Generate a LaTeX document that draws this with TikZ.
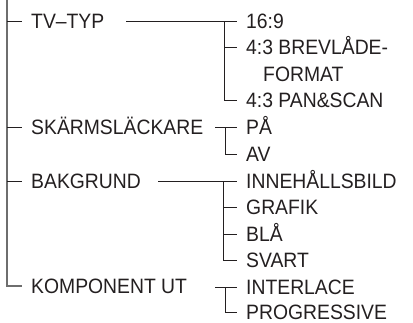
\documentclass[tikz,border=0pt]{standalone}
\usepackage{fontspec}
\setmainfont[FakeStretch=0.93]{Liberation Sans}
\definecolor{ink}{HTML}{231F20}
\definecolor{trunkgray}{HTML}{6E6E6E}
\begin{document}
\begin{tikzpicture}[x=1pt,y=-1pt,
  lbl/.style={anchor=west, inner xsep=9.5pt, inner ysep=0pt, text height=14.8pt, text depth=0pt,
              font=\fontsize{20.8}{21}\selectfont, text=ink},
  trunk/.style={draw=trunkgray, line width=1.6pt},
  branch/.style={draw=ink, line width=0.9pt}]
\useasboundingbox (0,0) rectangle (413,322);
% main labels
\node[lbl] (tv)    at (21.5,21)    {TV–TYP};
\node[lbl] (skarm) at (21.5,127.5) {SKÄRMSLÄCKARE};
\node[lbl] (bak)   at (21.5,181)   {BAKGRUND};
\node[lbl] (komp)  at (21.5,286)   {KOMPONENT UT};
% sub labels
\node[lbl] (s169)  at (236.5,21)    {16:9};
\node[lbl] (brev)  at (236.5,47.5)  {4:3 BREVLÅDE-};
\node[lbl] (fmt)   at (253.5,74)    {FORMAT};
\node[lbl] (pan)   at (236.5,100.5) {4:3 PAN\&SCAN};
\node[lbl] (pa)    at (236.5,127.5) {PÅ};
\node[lbl] (av)    at (236.5,154.5) {AV};
\node[lbl] (inne)  at (236.5,181)   {INNEHÅLLSBILD};
\node[lbl] (graf)  at (236.5,207.5) {GRAFIK};
\node[lbl] (bla)   at (236.5,234)   {BLÅ};
\node[lbl] (svart) at (236.5,260.5) {SVART};
\node[lbl] (inter) at (236.5,287)   {INTERLACE};
\node[lbl] (prog)  at (236.5,312)   {PROGRESSIVE};
% coordinates
\coordinate (top) at (7,0);
\coordinate (tvs) at (126,21);
\coordinate (tvj) at (224,21);
\coordinate (sks) at (215,127.5);
\coordinate (skj) at (225,127.5);
\coordinate (bks) at (158,181);
\coordinate (bkj) at (223.5,181);
\coordinate (kps) at (215,287);
\coordinate (kpj) at (225,287);
% trunk
\draw[trunk] (top) |- (komp.west);
\draw[branch] (top |- tv.west) -- (tv.west);
\draw[branch] (top |- skarm.west) -- (skarm.west);
\draw[branch] (top |- bak.west) -- (bak.west);
% TV-TYP
\draw[branch] (tvs) -- (s169.west);
\draw[branch] (tvj) |- (pan.west);
\draw[branch] (tvj |- brev.west) -- (brev.west);
% SKÄRMSLÄCKARE
\draw[branch] (sks) -- (pa.west);
\draw[branch] (skj) |- (av.west);
% BAKGRUND
\draw[branch] (bks) -- (inne.west);
\draw[branch] (bkj) |- (svart.west);
\draw[branch] (bkj |- graf.west) -- (graf.west);
\draw[branch] (bkj |- bla.west) -- (bla.west);
% KOMPONENT UT
\draw[branch] (kps) -- (inter.west);
\draw[branch] (kpj) |- (prog.west);
\end{tikzpicture}
\end{document}
